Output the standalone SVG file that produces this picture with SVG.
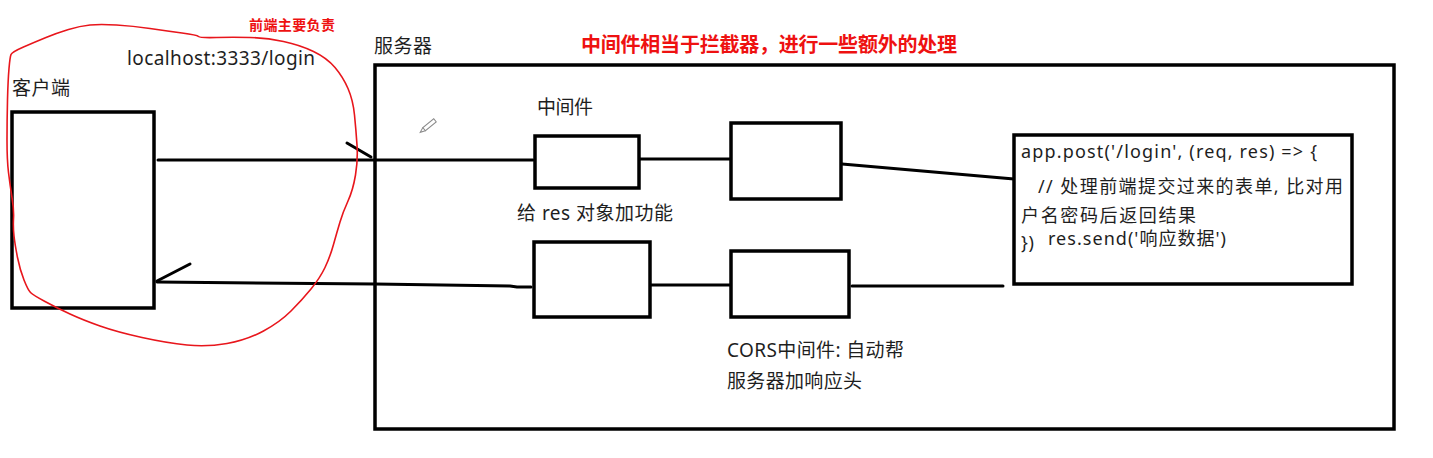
<svg xmlns="http://www.w3.org/2000/svg" width="1433" height="458" viewBox="0 0 1433 458">
<style>
.box{fill:#fff;stroke:#000;stroke-width:3.5}
.ln{fill:none;stroke:#000;stroke-width:3;stroke-linecap:round;stroke-linejoin:round}
.t{font-family:"Noto Sans","Noto Sans CJK SC",sans-serif;font-size:19px;fill:#1e1e1e}
.c{font-size:18px}
.red{font-family:"Noto Sans CJK SC",sans-serif;font-weight:bold;fill:#ee1111}
</style>
<rect width="1433" height="458" fill="#fff"/>
<g id="server">
<rect class="box" x="375" y="65" width="1019" height="364"/>
<text class="t" x="374" y="53" textLength="58">服务器</text>
</g>
<g id="client">
<rect class="box" x="12" y="112" width="142" height="196"/>
<text class="t" x="12" y="95" textLength="58">客户端</text>
</g>
<g id="connectors">
<line class="ln" x1="158" y1="160" x2="533" y2="160"/>
<line class="ln" x1="347" y1="143" x2="371" y2="157"/>
<line class="ln" x1="640" y1="159" x2="730" y2="159"/>
<line class="ln" x1="842" y1="164" x2="1014" y2="179"/>
<line class="ln" x1="852" y1="286" x2="1003" y2="286"/>
<line class="ln" x1="651" y1="285" x2="730" y2="285"/>
<polyline class="ln" points="531,287 517,287 510,286 375,284 157,282"/>
<line class="ln" x1="157" y1="281" x2="190" y2="264"/>
</g>
<g id="mw1">
<rect class="box" x="535" y="136" width="104" height="52"/>
<text class="t" x="537" y="114" textLength="56">中间件</text>
<text class="t" x="517" y="220" textLength="156">给 res 对象加功能</text>
</g>
<g id="mw2">
<rect class="box" x="731" y="123" width="110" height="76"/>
</g>
<g id="mw3">
<rect class="box" x="534" y="242" width="116" height="75"/>
</g>
<g id="mw4">
<rect class="box" x="731" y="251" width="118" height="66"/>
<text class="t" x="727" y="357" textLength="177">CORS中间件: 自动帮</text>
<text class="t" x="727" y="388" textLength="135">服务器加响应头</text>
</g>
<g id="route">
<rect class="box" x="1014" y="135" width="338" height="149"/>
<text class="t c" x="1021" y="158" textLength="296">app.post('/login', (req, res) =&gt; {</text>
<text class="t c" x="1038" y="193" textLength="305">// 处理前端提交过来的表单, 比对用</text>
<text class="t c" x="1021" y="222" textLength="175">户名密码后返回结果</text>
<text class="t c" x="1021" y="249" textLength="13">})</text>
<text class="t c" x="1048" y="245" textLength="178">res.send('响应数据')</text>
</g>
<g id="frontend">
<path d="M 23.5,47 Q 35,42 46,37.5 Q 57,33 68.5,29.5 Q 80,26 90,25 Q 100,24 116.5,25 Q 133,26 150,28.5 Q 167,31 182,33 Q 197,35 198.5,36.5 Q 200,38 216.5,37.5 Q 233,37 250,37.5 Q 267,38 283.5,41.5 Q 300,45 313.5,51.5 Q 327,58 335,67.5 Q 343,77 348,88.5 Q 353,100 354.5,115 Q 356,130 357,145 Q 358,160 355.5,175 Q 353,190 348,201 Q 343,212 340,222 Q 337,232 333.5,244.5 Q 330,257 325,267.5 Q 320,278 311,289 Q 302,300 291,311 Q 280,322 263.5,331 Q 247,340 227,343.5 Q 207,347 187,345 Q 167,343 142,337.5 Q 117,332 100,326 Q 83,320 70,314 Q 57,308 45,301.5 Q 33,295 30.5,292.5 Q 28,290 24,280 Q 20,270 17.5,257.5 Q 15,245 14,236 Q 13,227 13.5,218.5 Q 14,210 12,197.5 Q 10,185 8.5,172.5 Q 7,160 7,140 Q 7,120 7.5,100 Q 8,80 9,68.5 Q 10,57 11,54.5 Q 12,52 23.5,47 Z" fill="none" stroke="#e8161c" stroke-width="1.6"/>
<text class="red" x="249" y="30" font-size="14" textLength="86">前端主要负责</text>
<text class="t" x="127" y="65" font-size="20" textLength="188">localhost:3333/login</text>
</g>
<g id="title">
<text class="red" x="581" y="52" font-size="20" textLength="376">中间件相当于拦截器，进行一些额外的处理</text>
</g>
<g id="pencil" transform="translate(428,126) rotate(-39)">
<rect x="-5" y="-2" width="14" height="4" fill="#fff" stroke="#8a8a8a" stroke-width="1"/>
<path d="M-5,-2 L-10,0 L-5,2" fill="none" stroke="#8a8a8a" stroke-width="1"/>
</g>
</svg>
